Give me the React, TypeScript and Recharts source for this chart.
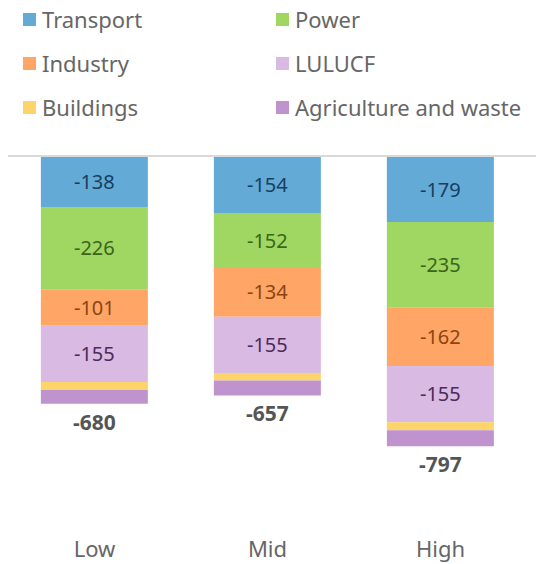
import React from 'react';
import { BarChart, Bar, XAxis, YAxis, LabelList } from 'recharts';

const scenarios = ['Low', 'Mid', 'High'];
const transport = [-138, -154, -179];
const power = [-226, -152, -235];
const industry = [-101, -134, -162];
const lulucf = [-155, -155, -155];
const buildings = [-22, -21, -22];
const agriculture = [-38, -41, -44];
const totals = [-680, -657, -797];

const series = [
  { key: 'transport', name: 'Transport', fill: '#64aad7', text: '#17405f', show: true },
  { key: 'power', name: 'Power', fill: '#a0d662', text: '#3b6518', show: true },
  { key: 'industry', name: 'Industry', fill: '#ffa566', text: '#8a4612', show: true },
  { key: 'lulucf', name: 'LULUCF', fill: '#d9bae3', text: '#4b2a5c', show: true },
  { key: 'buildings', name: 'Buildings', fill: '#fdd46a', text: '#555', show: false },
  { key: 'agriculture', name: 'Agriculture and waste', fill: '#bf93ce', text: '#555', show: false },
];

const data = scenarios.map((s, i) => ({
  name: s,
  transport: transport[i],
  power: power[i],
  industry: industry[i],
  lulucf: lulucf[i],
  buildings: buildings[i],
  agriculture: agriculture[i],
  total: totals[i],
}));

const FONT = '"Noto Sans", sans-serif';

// legend drawn as plain html over the chart so it doesn't eat plot space
const LegendGrid = () => (
  <div
    style={{
      position: 'absolute',
      top: -11,
      left: 15,
      display: 'grid',
      gridTemplateColumns: '253px 260px',
      fontFamily: FONT,
      fontSize: 22,
      color: '#666',
    }}
  >
    {series.map((s) => (
      <div key={s.key} style={{ display: 'flex', alignItems: 'center', height: 44 }}>
        <span style={{ width: 13, height: 13, background: s.fill, marginRight: 6, display: 'inline-block' }} />
        <span style={{ whiteSpace: 'nowrap' }}>{s.name}</span>
      </div>
    ))}
  </div>
);

// negative bars come with a negative height, so take the lower edge
const TotalLabel = (props: any) => {
  const { x, y, width, height, index } = props;
  const bottom = Math.max(y, y + height);
  return (
    <text
      x={x + width / 2}
      y={bottom + 18}
      textAnchor="middle"
      dominantBaseline="central"
      fontFamily={FONT}
      fontSize={21}
      fontWeight="bold"
      fill="#555"
    >
      {totals[index]}
    </text>
  );
};

const App: React.FC = () => {
  return (
    <div style={{ position: 'relative', width: 536, height: 556 }}>
      {/* zero baseline runs past the last category to the page edge */}
      <div style={{ position: 'absolute', top: 147, left: 0, width: 536, height: 2, background: '#d9d9d9' }} />
      <BarChart
        width={536}
        height={556}
        data={data}
        margin={{ top: 149, right: 0, bottom: 0, left: 0 }}
        barCategoryGap="19%"
      >
        <XAxis
          dataKey="name"
          axisLine={false}
          tickLine={false}
          padding={{ left: 0, right: 17 }}
          height={44}
          tickMargin={15}
          tick={{ fill: '#666', fontSize: 22, fontFamily: FONT }}
        />
        <YAxis hide domain={[-1000, 0]} />
        {series.map((s, idx) => (
          <Bar key={s.key} dataKey={s.key} name={s.name} stackId="a" fill={s.fill} isAnimationActive={false}>
            {s.show && (
              <LabelList
                dataKey={s.key}
                position="center"
                fill={s.text}
                fontSize={20}
                fontFamily={FONT}
              />
            )}
            {idx === series.length - 1 && <LabelList dataKey="total" content={TotalLabel} />}
          </Bar>
        ))}
      </BarChart>
      <LegendGrid />
    </div>
  );
};

export default App;
